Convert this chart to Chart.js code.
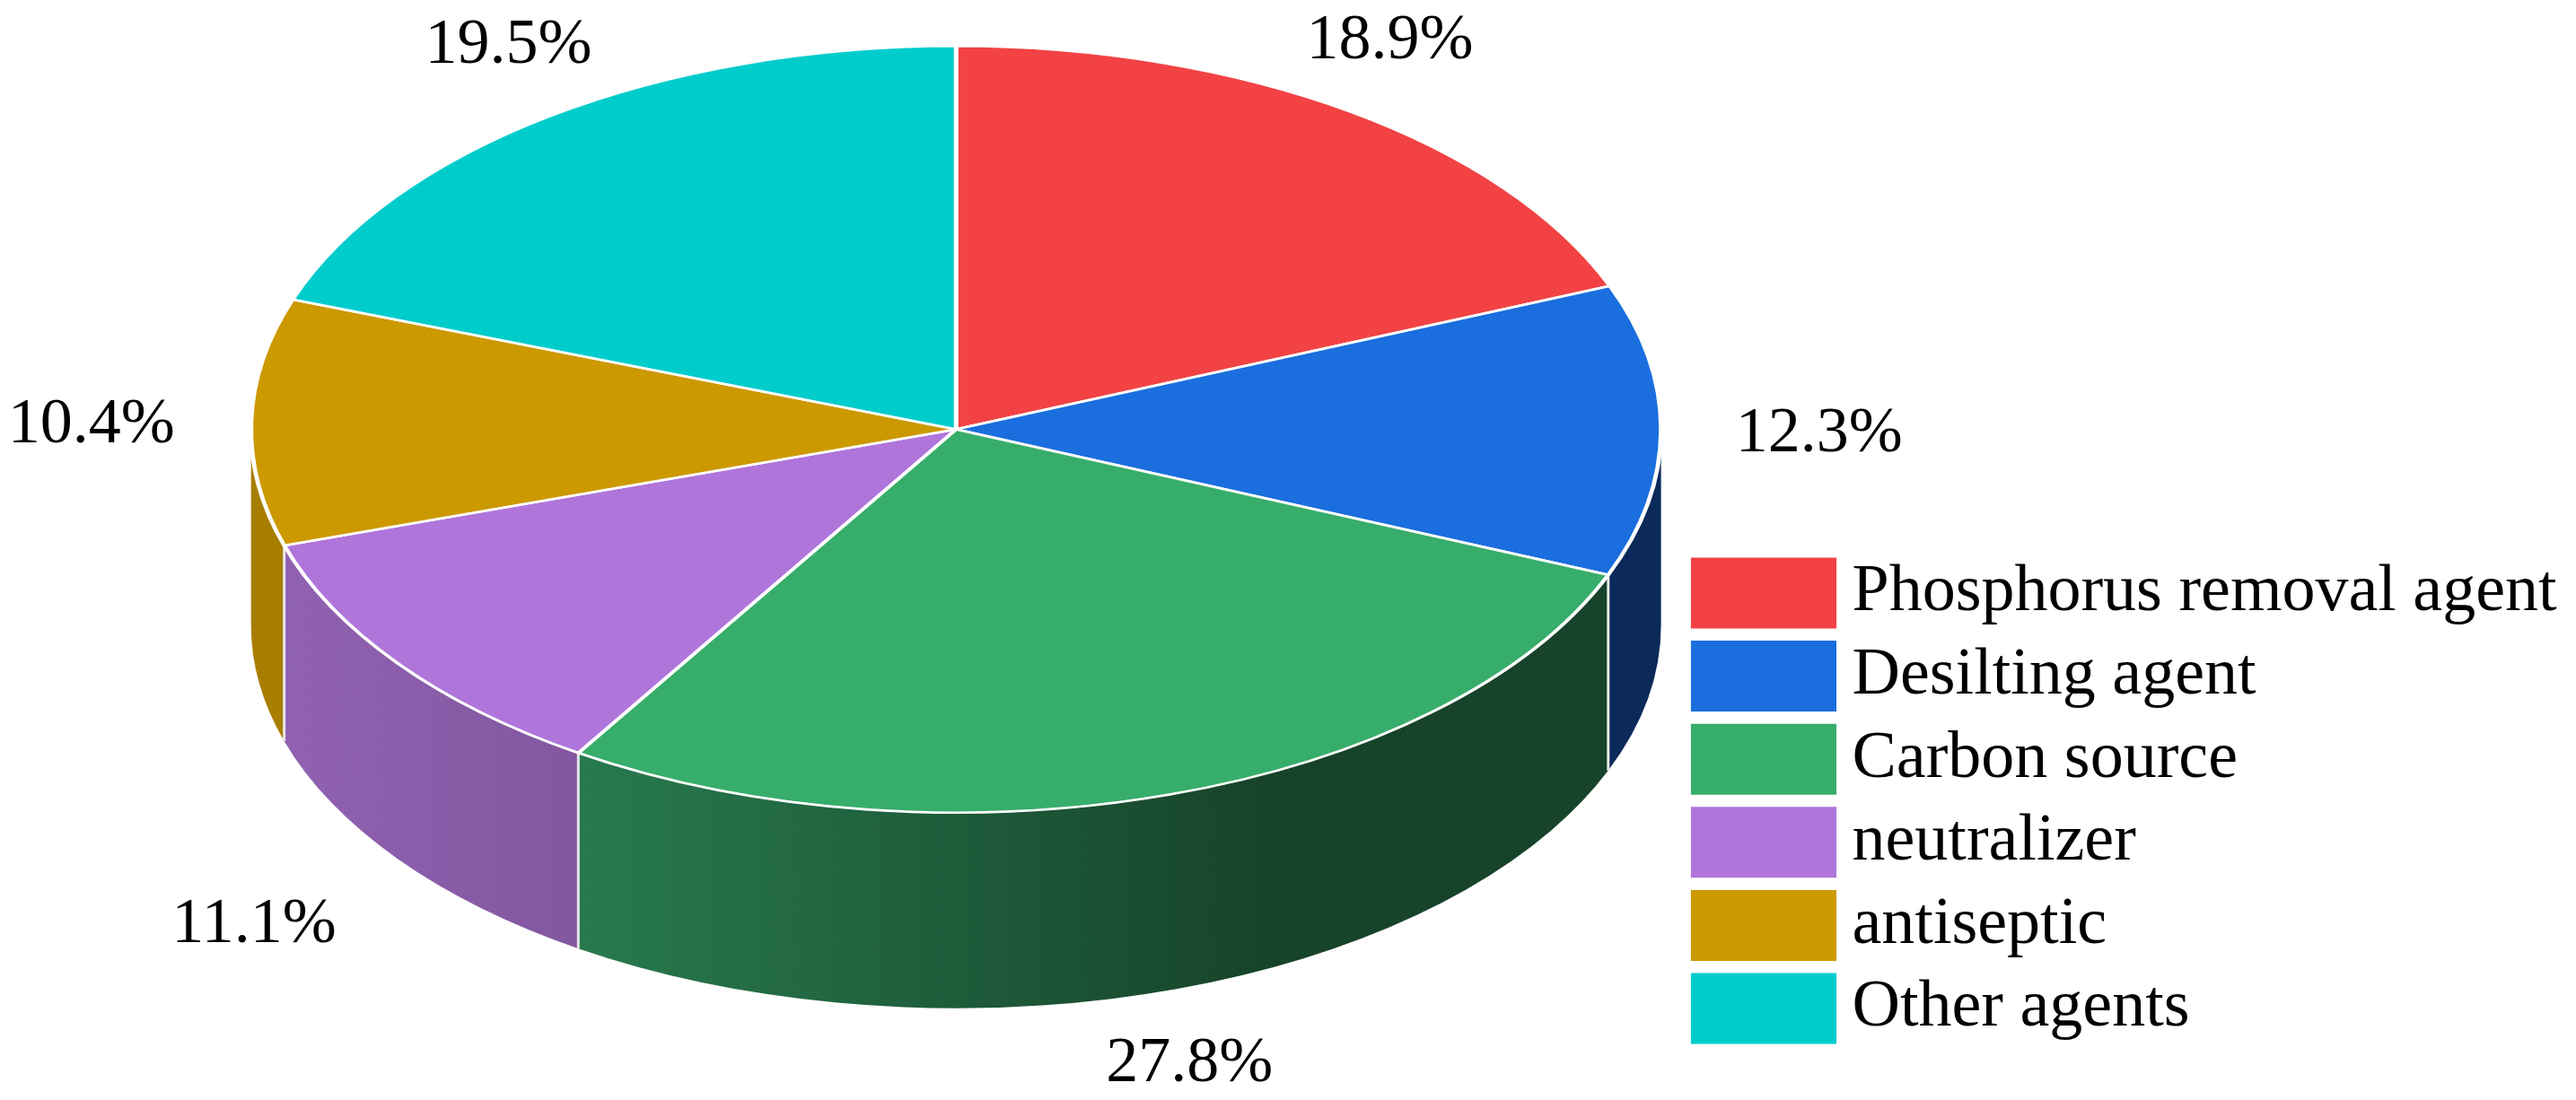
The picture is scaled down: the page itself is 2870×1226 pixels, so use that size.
<!DOCTYPE html>
<html>
<head>
<meta charset="utf-8">
<style>
  html, body { margin: 0; background: #fff; }
  canvas { display: block; }
</style>
<script src="https://cdn.jsdelivr.net/npm/chart.js@4"></script>
</head>
<body>
<canvas id="pieChart" width="2870" height="1226"></canvas>
<script>
var categories = ['Phosphorus removal agent', 'Desilting agent', 'Carbon source', 'neutralizer', 'antiseptic', 'Other agents'];
var shares = [18.9, 12.3, 27.8, 11.1, 10.4, 19.5];
var topColors = ['#f24244', '#1a6ede', '#37ad6b', '#af75db', '#cc9900', '#00cccc'];
// wall colours, left to right along each slice
var sideColors = [
    ['#a52d2e', '#a52d2e'],
    ['#0b2a5a', '#0b2a5a'],
    ['#287a4e', '#1f5f3c', '#17432a', '#17432a'],
    ['#9161b1', '#8257a0'],
    ['#a87e00', '#a87e00'],
    ['#008c8c', '#008c8c']
];
// where each percentage sits, measured from the rim at the slice's middle
var labelShiftX = [44, 176, 22, -160, -178, -47];
var labelShiftY = [-78, 4, 300, 292, 4, -78];

var widen = 784 / 426.4;   // circle -> ellipse
var depth = 218;
var serif = '"Liberation Serif", "Times New Roman", serif';

var tilted = {
    id: 'tilted',
    afterLayout: function (chart) {
        // legend stays out of the way of the pie but sits lower right
        var legend = chart.legend;
        legend.left = 1883 + 19.5 - legend.options.labels.padding;
        legend.right = 2870;
        legend.top = 624 - legend.options.labels.padding;
        legend.bottom = 1226;
    },
    beforeDatasetsDraw: function (chart) {
        var ctx = chart.ctx;
        var arcs = chart.getDatasetMeta(0).data;
        var cx = arcs[0].x, cy = arcs[0].y;
        var rx = arcs[0].outerRadius * widen, ry = arcs[0].outerRadius;
        var front = [];
        arcs.forEach(function (arc, i) {
            var from = Math.max(arc.startAngle, 0);
            var to = Math.min(arc.endAngle, Math.PI);
            if (to <= from) return;
            var x0 = cx + rx * Math.cos(from), x1 = cx + rx * Math.cos(to);
            var grad = ctx.createLinearGradient(Math.min(x0, x1), 0, Math.max(x0, x1), 0);
            sideColors[i].forEach(function (c, k) {
                grad.addColorStop(k / (sideColors[i].length - 1), c);
            });
            ctx.beginPath();
            ctx.ellipse(cx, cy, rx, ry, 0, from, to);
            ctx.ellipse(cx, cy + depth, rx, ry, 0, to, from, true);
            ctx.closePath();
            ctx.fillStyle = grad;
            ctx.fill();
            front.push(to);
        });
        // white seams between the walls
        ctx.strokeStyle = '#e8e8e8';
        ctx.lineWidth = 3;
        front.forEach(function (a) {
            if (a >= Math.PI) return;
            var x = cx + rx * Math.cos(a), y = cy + ry * Math.sin(a);
            ctx.beginPath();
            ctx.moveTo(x, y);
            ctx.lineTo(x, y + depth);
            ctx.stroke();
        });
    },
    beforeDatasetDraw: function (chart, args) {
        var arc = args.meta.data[0];
        chart.ctx.save();
        chart.ctx.translate(arc.x, 0);
        chart.ctx.scale(widen, 1);
        chart.ctx.translate(-arc.x, 0);
    },
    afterDatasetDraw: function (chart) {
        chart.ctx.restore();
    },
    afterDatasetsDraw: function (chart) {
        var ctx = chart.ctx;
        ctx.save();
        ctx.fillStyle = '#000';
        ctx.font = '72px ' + serif;
        ctx.textAlign = 'center';
        ctx.textBaseline = 'middle';
        chart.getDatasetMeta(0).data.forEach(function (arc, i) {
            var mid = (arc.startAngle + arc.endAngle) / 2;
            var x = arc.x + arc.outerRadius * widen * Math.cos(mid);
            var y = arc.y + arc.outerRadius * Math.sin(mid);
            ctx.fillText(shares[i].toFixed(1) + '%', x + labelShiftX[i], y + labelShiftY[i]);
        });
        ctx.restore();
    }
};

var ctx = document.getElementById('pieChart').getContext('2d');
var myChart = new Chart(ctx, {
    type: 'pie',
    data: {
        labels: categories,
        datasets: [{
            data: shares,
            backgroundColor: topColors,
            borderColor: '#ffffff',
            borderWidth: 2.6,
            clip: false
        }]
    },
    options: {
        responsive: false,
        animation: false,
        layout: { padding: { left: 235, right: 0, top: 50, bottom: 319 } },
        plugins: {
            tooltip: { enabled: false },
            legend: {
                position: 'right',
                align: 'start',
                labels: {
                    color: '#000',
                    font: { family: serif, size: 74, lineHeight: 1 },
                    boxWidth: 124,
                    boxHeight: 40,
                    padding: 18.6,
                    generateLabels: function (chart) {
                        // thick same-colour outline keeps the text close to the swatch
                        var items = Chart.overrides.doughnut.plugins.legend.labels.generateLabels(chart);
                        items.forEach(function (item) {
                            item.strokeStyle = item.fillStyle;
                            item.lineWidth = 39;
                        });
                        return items;
                    }
                }
            }
        }
    },
    plugins: [tilted]
});
</script>
</body>
</html>
